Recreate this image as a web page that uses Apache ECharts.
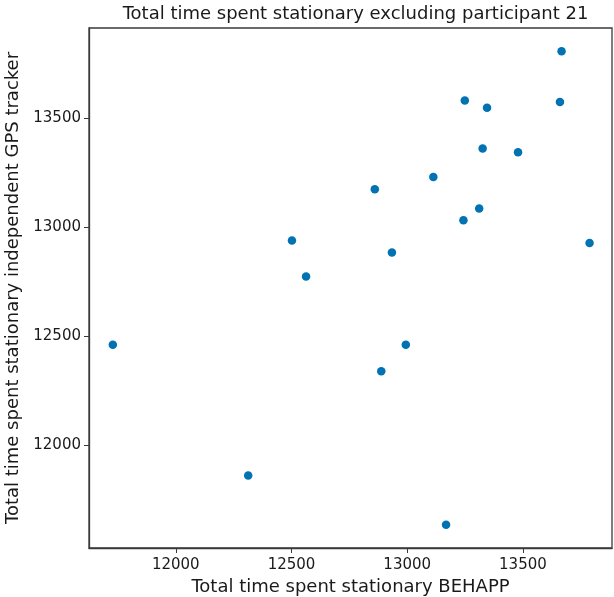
<!DOCTYPE html>
<html>
<head>
<meta charset="utf-8">
<title>Stationary time comparison</title>
<script src="https://cdn.jsdelivr.net/npm/echarts@6/dist/echarts.min.js"></script>
<style>
  html, body { margin: 0; padding: 0; background: #ffffff; }
  #chart { width: 614px; height: 597px; }
</style>
</head>
<body>
<div id="chart"></div>
<script>
// Total stationary time per participant (participant 21 excluded)
const behappTime = [
  13667, 13249, 13345, 13660, 13326, 13479, 13113, 12860, 13311, 13243,
  12502, 13788, 12934, 12563, 11728, 12994, 12888, 12313, 13168
];
const gpsTrackerTime = [
  13808, 13583, 13549, 13576, 13362, 13345, 13232, 13175, 13087, 13033,
  12940, 12929, 12885, 12775, 12462, 12462, 12341, 11862, 11637
];

// Tick positions shown on both axes
const xTicks = [12000, 12500, 13000, 13500];
const yTicks = [12000, 12500, 13000, 13500];

const titleText = 'Total time spent stationary excluding participant 21';
const xLabel = 'Total time spent stationary BEHAPP';
const yLabel = 'Total time spent stationary independent GPS tracker';

const points = behappTime.map((x, i) => [x, gpsTrackerTime[i]]);

const FONT = 'DejaVu Sans';
const spine = { show: true, lineStyle: { color: '#3a3a3a', width: 1.3 } };
const plainNumber = v => String(Math.round(v));

const chart = echarts.init(document.getElementById('chart'), null, { renderer: 'canvas' });
chart.setOption({
  backgroundColor: '#ffffff',
  animation: false,
  title: {
    text: titleText,
    left: 'center',
    top: 0,
    textStyle: { fontFamily: FONT, fontSize: 18, fontWeight: 'normal', color: '#1a1a1a' }
  },
  grid: {
    left: 89, top: 28, right: 2, bottom: 49,
    outerBoundsMode: 'none',
    containLabel: false,
    show: true, borderColor: '#3a3a3a', borderWidth: 1.3, backgroundColor: 'transparent'
  },
  xAxis: {
    type: 'value',
    min: 11625, max: 13885,
    name: xLabel,
    nameLocation: 'middle',
    nameGap: 27,
    nameTextStyle: { fontFamily: FONT, fontSize: 18, color: '#1a1a1a' },
    axisLine: spine,
    splitLine: { show: false },
    axisTick: { show: true, inside: false, length: 5, customValues: xTicks,
                lineStyle: { color: '#3a3a3a', width: 1 } },
    axisLabel: { customValues: xTicks, formatter: plainNumber, margin: 10,
                 fontFamily: FONT, fontSize: 15, color: '#1a1a1a' }
  },
  yAxis: {
    type: 'value',
    min: 11530, max: 13915,
    name: yLabel,
    nameLocation: 'middle',
    nameGap: 54,
    nameTextStyle: { fontFamily: FONT, fontSize: 18, color: '#1a1a1a' },
    axisLine: spine,
    splitLine: { show: false },
    axisTick: { show: true, inside: false, length: 5, customValues: yTicks,
                lineStyle: { color: '#3a3a3a', width: 1 } },
    axisLabel: { customValues: yTicks, formatter: plainNumber, margin: 8,
                 fontFamily: FONT, fontSize: 15, color: '#1a1a1a' }
  },
  series: [{
    type: 'scatter',
    data: points,
    symbol: 'circle',
    symbolSize: 8.5,
    itemStyle: { color: '#0173B2', opacity: 1 }
  }]
});

// Centre the title over the plotting area rather than the whole canvas
const plotRect = chart.getModel().getComponent('grid').coordinateSystem.getRect();
chart.setOption({
  title: { left: plotRect.x + plotRect.width / 2, textAlign: 'center' }
});
</script>
</body>
</html>
